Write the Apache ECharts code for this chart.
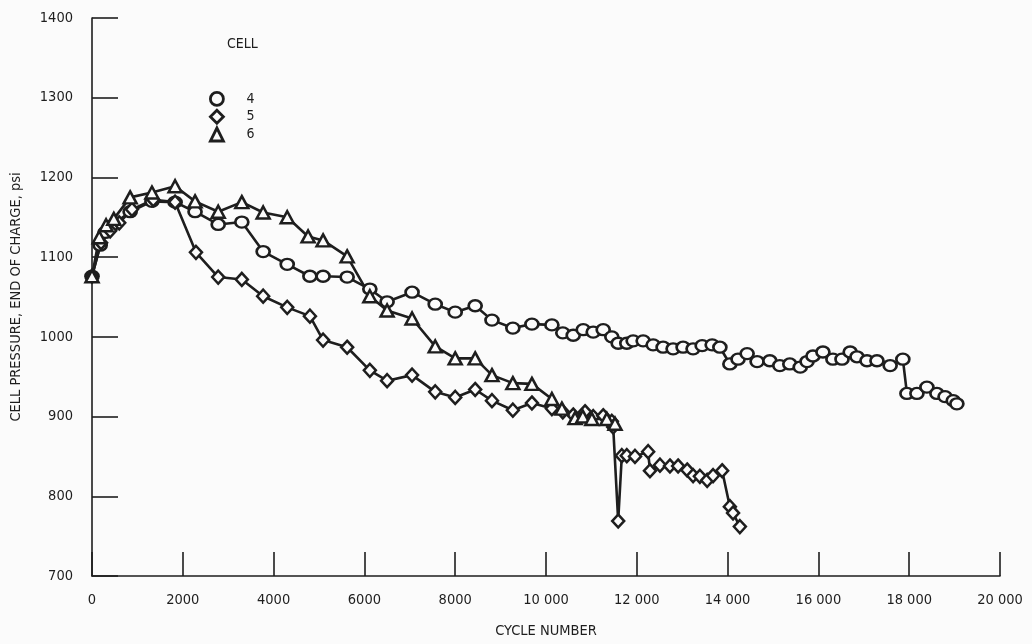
<!DOCTYPE html>
<html>
<head>
<meta charset="utf-8">
<script src="https://cdn.jsdelivr.net/npm/echarts@6/dist/echarts.min.js"></script>
<style>
  html, body { margin: 0; padding: 0; background: #fbfbfb; }
  #chart { width: 1032px; height: 644px; }
</style>
</head>
<body>
<div id="chart"></div>
<script>
// cell 4 (circles)
var cycles4 = [0,180,290,420,840,1320,1830,2270,2780,3300,3770,4300,4800,5090,5620,6120,6500,7050,7560,8000,8440,8810,9270,9690,10130,10370,10600,10820,11040,11260,11450,11590,11780,11920,12140,12360,12580,12800,13020,13240,13440,13660,13830,14050,14230,14430,14650,14930,15150,15370,15600,15750,15880,16100,16320,16520,16700,16850,17070,17290,17580,17860,17950,18170,18390,18610,18790,18970,19050];
var pressure4 = [1076,1115,1131,1139,1157,1170,1169,1157,1141,1144,1107,1091,1076,1076,1075,1060,1044,1056,1041,1031,1039,1021,1011,1016,1015,1005,1002,1009,1006,1009,1000,992,992,995,995,990,987,985,987,985,989,990,987,966,972,979,969,970,964,966,962,969,976,981,972,972,981,975,970,970,964,972,929,929,937,929,925,920,916];

// cell 5 (diamonds)
var cycles5 = [0,200,400,600,880,1350,1830,2290,2780,3300,3770,4300,4800,5090,5620,6120,6500,7050,7560,8000,8440,8810,9270,9690,10130,10370,10600,10860,11040,11260,11450,11480,11590,11670,11780,11960,12250,12290,12510,12730,12910,13110,13240,13390,13550,13680,13880,14050,14120,14270];
var pressure5 = [1076,1118,1133,1143,1160,1172,1169,1106,1075,1072,1051,1037,1026,996,987,958,945,952,931,924,934,920,908,917,910,906,902,906,900,901,894,887,769,851,851,850,856,832,839,838,838,833,826,825,820,826,832,787,779,762];

// cell 6 (triangles)
var cycles6 = [0,160,310,480,840,1320,1830,2270,2780,3300,3770,4300,4760,5090,5620,6120,6500,7050,7560,8000,8440,8810,9270,9690,10130,10350,10640,10810,11010,11340,11520];
var pressure6 = [1076,1125,1140,1148,1175,1181,1189,1170,1157,1169,1156,1150,1126,1121,1101,1051,1033,1023,988,973,973,952,942,941,922,910,898,900,897,897,891];

var cellNames = ['4', '5', '6'];
var cellSymbols = ['circle', 'diamond', 'triangle'];
var cellSizes = [[13, 11], [12, 13], [13, 12]];

function pairs(xs, ys) {
    return xs.map(function (x, i) { return [x, ys[i]]; });
}
var allData = [pairs(cycles4, pressure4), pairs(cycles5, pressure5), pairs(cycles6, pressure6)];

var ink = '#1e1e1e';
var font = "'DejaVu Sans Condensed', 'Liberation Sans Narrow', 'Liberation Sans', sans-serif";

var myChart = echarts.init(document.getElementById('chart'));

var option = {
    backgroundColor: '#fbfbfb',
    animation: false,
    grid: { left: 92, right: 32, top: 18, bottom: 66 },
    graphic: [
        { type: 'text', left: 227, top: 37,
          style: { text: 'CELL', font: '14px ' + font, fill: ink } }
    ],
    legend: {
        orient: 'vertical',
        left: 204,
        top: 86,
        itemWidth: 13,
        itemHeight: 13,
        itemGap: 2,
        data: cellNames.map(function (n, i) { return { name: n, icon: cellSymbols[i] }; }),
        itemStyle: { color: '#fbfbfb', borderColor: ink, borderWidth: 2.8 },
        textStyle: { fontFamily: font, fontSize: 14, color: ink, padding: [0, 0, 0, 18] }
    },
    xAxis: {
        type: 'value',
        min: 0,
        max: 20000,
        interval: 2000,
        name: 'CYCLE NUMBER',
        nameLocation: 'middle',
        nameGap: 48,
        nameTextStyle: { fontFamily: font, fontSize: 14.5, color: ink },
        axisLine: { lineStyle: { color: ink, width: 1.6 } },
        axisTick: { inside: true, length: 24, lineStyle: { color: ink, width: 1.6 } },
        axisLabel: {
            fontFamily: font, fontSize: 14.5, color: ink, margin: 17,
            formatter: function (v) {
                return v >= 10000 ? Math.floor(v / 1000) + ' ' + String(v % 1000).padStart(3, '0') : String(v);
            }
        },
        splitLine: { show: false }
    },
    yAxis: {
        type: 'value',
        min: 700,
        max: 1400,
        interval: 100,
        name: 'CELL PRESSURE, END OF CHARGE, psi',
        nameLocation: 'middle',
        nameGap: 68,
        nameTextStyle: { fontFamily: font, fontSize: 14.5, color: ink },
        axisLine: { show: true, lineStyle: { color: ink, width: 1.6 } },
        axisTick: { show: true, inside: true, length: 26, lineStyle: { color: ink, width: 1.6 } },
        axisLabel: {
            fontFamily: font, fontSize: 14.5, color: ink, margin: 19,
            formatter: function (v) { return String(v); }
        },
        splitLine: { show: false }
    },
    series: cellNames.map(function (n, i) {
        return {
            name: n,
            type: 'line',
            data: allData[i],
            symbol: cellSymbols[i],
            symbolSize: cellSizes[i],
            showAllSymbol: true,
            color: ink,
            lineStyle: { color: ink, width: 2.6 },
            itemStyle: { color: '#fbfbfb', borderColor: ink, borderWidth: 2.5 }
        };
    })
};

myChart.setOption(option);
</script>
</body>
</html>
